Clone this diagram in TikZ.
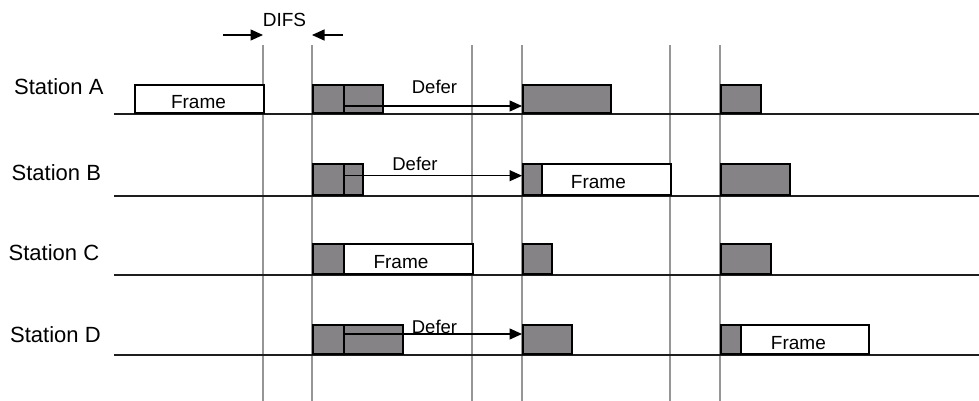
\documentclass[tikz,border=0pt]{standalone}
\usepackage{fontspec}
\setmainfont{Liberation Sans}
\usetikzlibrary{arrows.meta}

\definecolor{slotgray}{RGB}{134,131,134}
\definecolor{gridgray}{RGB}{150,150,150}
\definecolor{axisblack}{RGB}{30,30,30}

\tikzset{
  slot/.style={draw=black, line width=1.6pt, fill=slotgray, inner sep=0pt,
               anchor=south west, minimum height=#1},
  framebox/.style={draw=black, line width=1.6pt, fill=white, inner sep=0pt,
               anchor=south west, minimum height=#1},
  gridline/.style={draw=gridgray, line width=1.3pt},
  axis/.style={draw=axisblack, line width=1.8pt},
  stationlabel/.style={inner sep=0pt, anchor=base west,
               font=\fontsize{22}{24}\selectfont},
  framelabel/.style={inner sep=0pt, anchor=base,
               font=\fontsize{19}{21}\selectfont},
  deferlabel/.style={inner sep=0pt, anchor=base,
               font=\fontsize{18.5}{20}\selectfont},
  timearrow/.style={draw=black, line width=1.3pt,
               -{Triangle[length=12.5pt,width=11pt]}},
}

\begin{document}
\begin{tikzpicture}[x=1pt,y=-1pt]
\useasboundingbox (0,0) rectangle (979,401);
\fill[white] (0,0) rectangle (979,401);

% slot boundaries
\foreach \name/\xx in {v1/263,v2/312,v3/472,v4/522,v5/670,v6/720}{
  \coordinate (\name) at (\xx,45);
  \draw[gridline] (\name) -- (\xx,401);
}

% station time axes
\foreach \name/\yy in {ta/114,tb/196,tc/275,td/355}{
  \coordinate (\name) at (114,\yy);
  \draw[axis] (\name) -- (979,\yy);
}

% station labels
\node[stationlabel] (la) at (14,94.3)  {Station A};
\node[stationlabel] (lb) at (11.5,180.7) {Station B};
\node[stationlabel] (lc) at (8.5,260.5) {Station C};
\node[stationlabel] (ld) at (10,342.7) {Station D};

% DIFS marker
\node[framelabel] (difs) at (284.5,26.7) {DIFS};
\coordinate (difsl) at (223,35);
\coordinate (difsr) at (343,35);
\draw[timearrow] (difsl) -- (v1 |- difsl);
\draw[timearrow] (difsr) -- (v2 |- difsr);

% Station A
\node[framebox=28pt, minimum width=129pt] (fa) at (134,114) {};
\node[slot=28pt, minimum width=31pt] (a1) at (312,114) {};
\node[slot=28pt, minimum width=39pt] (a2) at (343,114) {};
\node[slot=28pt, minimum width=88pt] (a3) at (522,114) {};
\node[slot=28pt, minimum width=40pt] (a4) at (720,114) {};
\node[framelabel] (fla) at (198.5,108.3) {Frame};
\node[deferlabel] (dla) at (434.5,93.3) {Defer};
\coordinate (da) at (343,106);
\draw[timearrow] (da) -- (a3.west |- da);

% Station B
\node[slot=31pt, minimum width=31pt] (b1) at (312,196) {};
\node[slot=31pt, minimum width=19pt] (b2) at (343,196) {};
\node[slot=31pt, minimum width=19pt] (b3) at (522,196) {};
\node[framebox=31pt, minimum width=129pt] (fb) at (541,196) {};
\node[slot=31pt, minimum width=69pt] (b5) at (720,196) {};
\node[framelabel] (flb) at (598.4,188.3) {Frame};
\node[deferlabel] (dlb) at (415,170.7) {Defer};
\coordinate (db) at (343,175.7);
\draw[timearrow] (db) -- (b3.west |- db);

% Station C
\node[slot=30pt, minimum width=31pt] (c1) at (312,275) {};
\node[framebox=30pt, minimum width=129pt] (fc) at (343,275) {};
\node[slot=30pt, minimum width=29pt] (c3) at (522,275) {};
\node[slot=30pt, minimum width=50pt] (c4) at (720,275) {};
\node[framelabel] (flc) at (401,268) {Frame};

% Station D
\node[slot=29pt, minimum width=31pt] (d1) at (312,355) {};
\node[slot=29pt, minimum width=59pt] (d2) at (343,355) {};
\node[slot=29pt, minimum width=49pt] (d3) at (522,355) {};
\node[slot=29pt, minimum width=20pt] (d4) at (720,355) {};
\node[framebox=29pt, minimum width=128pt] (fd) at (740,355) {};
\node[framelabel] (fld) at (798.4,349.3) {Frame};
\coordinate (dd) at (343,334);
\draw[timearrow] (dd) -- (d3.west |- dd);
\node[deferlabel] (dld) at (434.5,333.3) {Defer};
\end{tikzpicture}
\end{document}
